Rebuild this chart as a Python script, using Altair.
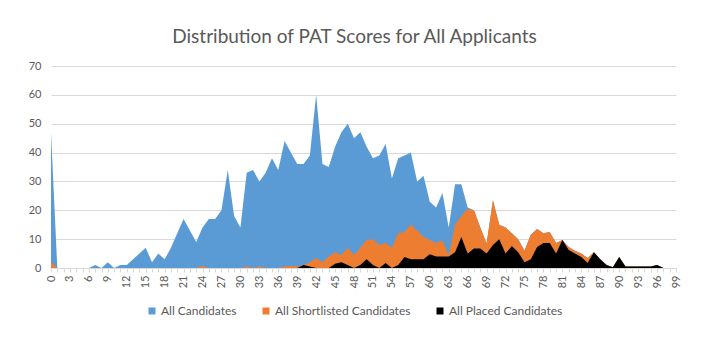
import altair as alt
import pandas as pd

scores = list(range(100))

all_candidates = [
    47, 0, 0, 0, 0, 0, 0, 1, 0, 2,
    0, 1, 1, 3, 5, 7, 2, 5, 3, 7,
    12, 17, 13, 9, 14, 17, 17, 20, 34, 18,
    14, 33, 34, 30, 33, 38, 34, 44, 40, 36,
    36, 39, 60, 36, 35, 42, 47, 50, 45, 47,
    42, 38, 39, 43, 31, 38, 39, 40, 30, 32,
    23, 21, 26, 14, 29, 29, 21, 20, 14, 8.5,
    23.5, 15, 14, 12, 10, 6, 11.5, 13.5, 12, 12.5,
    8.7, 9.7, 7.3, 6, 5, 3.5, 5.5, 3, 1, 0.3,
    3.8, 0.5, 0.5, 0.5, 0.5, 0.5, 1, 0, 0, 0,
]

shortlisted = [
    2, 0, 0, 0, 0, 0, 0, 0, 0, 0,
    0, 0, 0, 0, 0, 0, 0, 0, 0, 0,
    0, 0, 0, 0, 0.7, 0, 0, 0, 0, 0,
    0, 0.5, 0, 0.5, 0, 0, 0, 0.5, 0.7, 0.5,
    1, 2, 3.5, 2, 4, 5.5, 4.5, 7, 4.5, 7,
    9.7, 10, 8, 8.7, 7, 12, 12.5, 15, 13, 10.8,
    9.7, 8.7, 9.5, 4.5, 15, 18, 20.5, 20, 14, 8.5,
    23.5, 15, 14, 12, 10, 6, 11.5, 13.5, 12, 12.5,
    8.7, 9.7, 7.3, 6, 5, 3.5, 5.5, 3, 1, 0.3,
    3.8, 0.5, 0.5, 0.5, 0.5, 0.5, 1, 0, 0, 0,
]

placed = [
    0, 0, 0, 0, 0, 0, 0, 0, 0, 0,
    0, 0, 0, 0, 0, 0, 0, 0, 0, 0,
    0, 0, 0, 0, 0, 0, 0, 0, 0, 0,
    0, 0, 0, 0, 0, 0, 0, 0, 0, 0,
    1, 0.5, 0, 0, 0, 1.5, 2, 1, 0, 1,
    3, 1, 0, 1.7, 0, 1, 3.8, 3, 3, 3,
    4.8, 4, 4, 4, 5.5, 10.7, 5, 6.8, 6.8, 5,
    8, 10, 5, 7.6, 5.5, 2, 3, 7.3, 8.7, 8.7,
    5, 9.7, 6.2, 5, 3.8, 1.7, 5.5, 3, 1, 0.3,
    3.8, 0.5, 0.5, 0.5, 0.5, 0.5, 1, 0, 0, 0,
]

series_names = ["All Candidates", "All Shortlisted Candidates", "All Placed Candidates"]
series_colors = ["#5b9bd5", "#ed7d31", "#000000"]
y_ticks = [0, 10, 20, 30, 40, 50, 60, 70]

rows = []
for name, vals in zip(series_names, [all_candidates, shortlisted, placed]):
    for s, v in zip(scores, vals):
        rows.append({"score": s, "count": v, "series": name})
df = pd.DataFrame(rows)

FONT = "Lato"
TXT = "#595959"

base = alt.Chart(df).mark_area(opacity=1, interpolate="linear").encode(
    x=alt.X(
        "score:Q",
        scale=alt.Scale(domain=[0, 99], nice=False, zero=False),
        axis=alt.Axis(
            title=None,
            values=scores,
            labelExpr="datum.value % 3 == 0 ? datum.label : ''",
            labelAngle=-90,
            labelFontSize=11,
            labelColor=TXT,
            labelFont=FONT,
            labelPadding=3,
            tickSize=4,
            tickColor="#d9d9d9",
            domainColor="#d9d9d9",
            grid=False,
            labelOverlap=False,
            labelFlush=False,
        ),
    ),
    y=alt.Y(
        "count:Q",
        stack=None,
        scale=alt.Scale(domain=[0, 70], nice=False),
        axis=alt.Axis(
            title=None,
            values=y_ticks,
            labelFontSize=11,
            labelColor=TXT,
            labelFont=FONT,
            labelPadding=10,
            ticks=False,
            domain=False,
            gridColor="#d9d9d9",
        ),
    ),
    color=alt.Color(
        "series:N",
        scale=alt.Scale(domain=series_names, range=series_colors),
        legend=alt.Legend(
            title=None,
            orient="none",
            direction="horizontal",
            legendX=95,
            legendY=239,
            symbolType="square",
            symbolSize=49,
            symbolStrokeWidth=0,
            labelFontSize=12,
            labelColor=TXT,
            labelFont=FONT,
            labelOffset=3,
            columnPadding=23,
        ),
    ),
)

layers = [base.transform_filter(alt.datum.series == n) for n in series_names]

chart = alt.layer(*layers).properties(
    width=625,
    height=202,
    title=alt.TitleParams(
        "Distribution of PAT Scores for All Applicants",
        fontSize=19,
        font=FONT,
        fontWeight="normal",
        color=TXT,
        anchor="middle",
        offset=13,
        dx=-9,
    ),
    autosize=alt.AutoSizeParams(type="none"),
    padding={"left": 51, "top": 66, "right": 34, "bottom": 83},
    background="white",
).configure_view(stroke=None)

chart.save("out.html", embed_options={"renderer": "svg", "actions": False})
